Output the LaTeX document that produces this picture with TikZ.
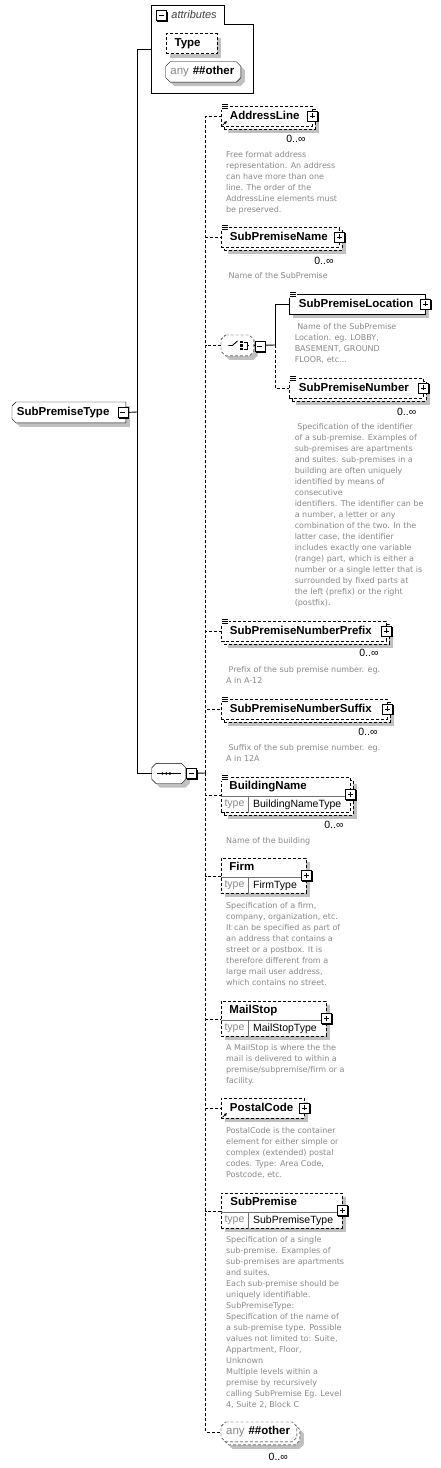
\documentclass[tikz,border=0pt]{standalone}
\usepackage{fontspec}
\setmainfont{Liberation Sans}
\newfontfamily\docfamily{DejaVu Sans}
\usepackage{tikz}
\usetikzlibrary{calc,shadows,arrows.meta,backgrounds}

\definecolor{shadowgray}{HTML}{C0C0C0}
\definecolor{docgray}{HTML}{888888}

% outline of a box with cut corners, from the anchors of node #1
\newcommand\chamfer[2]{($(#1.north west)+(#2,0)$) -- ($(#1.north east)+(-#2,0)$) -- ($(#1.north east)+(0,#2)$)
  -- ($(#1.south east)+(0,-#2)$) -- ($(#1.south east)+(-#2,0)$) -- ($(#1.south west)+(#2,0)$)
  -- ($(#1.south west)+(0,-#2)$) -- ($(#1.north west)+(0,#2)$) -- cycle}

\tikzset{
  elem/.style={draw, fill=white, anchor=north west, inner sep=0pt, minimum height=20pt,
    font=\fontsize{11.5}{13}\selectfont\bfseries, text height=8pt, text depth=2.5pt, align=left},
  chbox/.style={elem, draw=none, fill=none},
  backbox/.style={draw, fill=white, anchor=north west, inner sep=0pt, minimum height=20pt},
  opt/.style={dash pattern=on 3pt off 2pt},
  boxshadow/.style={general shadow={fill=shadowgray, shadow xshift=4pt, shadow yshift=-4pt}},
  shadowfill/.style={fill=shadowgray, transform canvas={shift={(4pt,-4pt)}}},
  elemlabel/.style={anchor=west, inner sep=0pt, font=\fontsize{11.5}{13}\selectfont\bfseries,
    text height=8pt, text depth=2.5pt},
  typename/.style={anchor=west, inner sep=0pt, font=\fontsize{10.5}{12}\selectfont},
  typelbl/.style={inner sep=0pt, font=\fontsize{10.5}{12}\selectfont, text=docgray},
  typeline/.style={draw=black!55, line width=0.9pt},
  occ/.style={anchor=east, inner sep=0pt, font=\fontsize{10.5}{12}\selectfont},
  doc/.style={anchor=north west, inner sep=0pt, align=left, text=docgray,
    font=\docfamily\fontsize{8}{11}\selectfont},
  plusicon/.pic={
    \fill (-4.5,-4.5) rectangle (6,6);
    \filldraw[fill=white, line width=0.8pt] (-5.5,-5.5) rectangle (4.5,4.5);
    \draw[line width=0.8pt] (-3,-0.5) -- (2,-0.5) (-0.5,-3) -- (-0.5,2);
  },
  minusicon/.pic={
    \fill (-4.5,-4.5) rectangle (6,6);
    \filldraw[fill=white, line width=0.8pt] (-5.5,-5.5) rectangle (4.5,4.5);
    \draw[line width=0.8pt] (-3,-0.5) -- (2,-0.5);
  },
  docmark/.pic={
    \fill[white] (-0.6,-2.5) rectangle (7.5,3.5);
    \foreach \d in {-1.5,0.5,2.5}
      \draw[line width=0.7pt] (1,\d) -- (7,\d);
  },
  refarrow/.pic={
    \draw[line width=0.8pt, -{Latex[length=3pt,width=3pt]}] (1.5,-1.5) -- (6,-6);
  },
}

\begin{document}
\begin{tikzpicture}[x=1pt, y=-1pt, line width=0.9pt]
\useasboundingbox (0,0) rectangle (440,1468);

% root
\node[chbox, minimum width=113, text width=104] (root) at (12,402) {SubPremiseType};

% attributes
\node[anchor=north west, inner sep=0pt, minimum width=100.6, minimum height=87.3] (attrs) at (151.7,5) {};
\draw (attrs.north west) -- ++(72.6,0) -- ++(0,19.3) -| (attrs.south east) -- (attrs.south west) -- cycle;
\node[anchor=west, inner sep=0pt, font=\fontsize{11}{13}\selectfont\itshape, text=black!75] (attrlbl) at (171,15) {attributes};
\node[elem, opt, boxshadow, minimum width=51, text width=34] (type) at (165.7,33.3) {Type};
\node[chbox, minimum width=74.3, minimum height=19.5, text width=65.7] (attrany) at (165.7,61.7)
  {\textcolor{docgray}{\mdseries any} \#\#other};

% sequence
\node[chbox, minimum width=33.3, minimum height=19.5] (seq) at (151.7,763.3) {};
\draw ($(seq.center)+(-11.5,0)$) -- ($(seq.center)+(11.8,0)$);
\foreach \d in {-6.3,-2.6,1.1}
  \fill ($(seq.center)+(\d,0)$) circle (1.4);

% AddressLine
\node[backbox, opt, boxshadow, minimum width=91] (addrbk) at (224,109) {};
\node[elem, opt, minimum width=91, text width=74] (addr) at (221,106) {AddressLine};
\node[occ] (addrocc) at (306,139) {0..∞};
\node[doc] (addrdoc) at (225.7,151) {Free format address\\representation. An address\\can have more than one\\line. The order of the\\AddressLine elements must\\be preserved.};

% SubPremiseName
\node[backbox, opt, boxshadow, minimum width=118] (spnamebk) at (224,230) {};
\node[elem, opt, minimum width=118, text width=101] (spname) at (221,227) {SubPremiseName};
\node[occ] (spnameocc) at (334,261) {0..∞};
\node[doc] (spnamedoc) at (225.7,272) {\hspace*{2.5pt}Name of the SubPremise};

% choice
\node[chbox, minimum width=32] (choice) at (221,335) {};
\draw ($(choice.center)+(-9,0)$) -- ($(choice.center)+(-5,0)$) -- ($(choice.center)+(0,-4.5)$);
\foreach \d in {-3.5,0,3.5}
  \fill ($(choice.center)+(3,\d-1)$) rectangle ++(2.2,2.2);
\draw ($(choice.center)+(7,-3.5)$) -- ($(choice.center)+(9.5,-3.5)$) -- ($(choice.center)+(9.5,3.5)$) -- ($(choice.center)+(7,3.5)$)
  ($(choice.center)+(9.5,0)$) -- ($(choice.center)+(12,0)$);

% SubPremiseLocation
\node[elem, boxshadow, minimum width=136, text width=117] (sploc) at (289,294) {SubPremiseLocation};
\node[doc] (splocdoc) at (294.3,322.7) {\hspace*{2.5pt}Name of the SubPremise\\Location. eg. LOBBY,\\BASEMENT, GROUND\\FLOOR, etc...};

% SubPremiseNumber
\node[backbox, opt, boxshadow, minimum width=134] (spnumbk) at (292,381) {};
\node[elem, opt, minimum width=134, text width=115] (spnum) at (289,378) {SubPremiseNumber};
\node[occ] (spnumocc) at (416.7,411.7) {0..∞};
\node[doc] (spnumdoc) at (294.3,422.7) {\hspace*{2.5pt}Specification of the identifier\\of a sub-premise. Examples of\\sub-premises are apartments\\and suites. sub-premises in a\\building are often uniquely\\identified by means of\\consecutive\\identifiers. The identifier can be\\a number, a letter or any\\combination of the two. In the\\latter case, the identifier\\includes exactly one variable\\(range) part, which is either a\\number or a single letter that is\\surrounded by fixed parts at\\the left (prefix) or the right\\(postfix).};

% SubPremiseNumberPrefix
\node[backbox, opt, boxshadow, minimum width=165] (prefixbk) at (224,624) {};
\node[elem, opt, minimum width=165, text width=148] (prefix) at (221,621) {SubPremiseNumberPrefix};
\node[occ] (prefixocc) at (379,653) {0..∞};
\node[doc] (prefixdoc) at (225.7,666) {\hspace*{2.5pt}Prefix of the sub premise number. eg.\\A in A-12};

% SubPremiseNumberSuffix
\node[backbox, opt, boxshadow, minimum width=166] (suffixbk) at (224,702) {};
\node[elem, opt, minimum width=166, text width=149] (suffix) at (221,699) {SubPremiseNumberSuffix};
\node[occ] (suffixocc) at (378,732) {0..∞};
\node[doc] (suffixdoc) at (225.7,744) {\hspace*{2.5pt}Suffix of the sub premise number. eg.\\A in 12A};

% BuildingName
\node[backbox, opt, boxshadow, minimum width=129, minimum height=35] (bnamebk) at (224,780) {};
\node[elem, opt, minimum width=129, minimum height=35] (bname) at (221,777) {};
\node[elemlabel] (bnamelbl) at (229,786.5) {BuildingName};
\node[typename] (bnametn) at (252.7,804.5) {BuildingNameType};
\node[occ] (bnameocc) at (344,825) {0..∞};
\node[doc] (bnamedoc) at (225.7,836.7) {Name of the building};

% Firm
\node[elem, opt, boxshadow, minimum width=85, minimum height=35] (firm) at (221,858) {};
\node[elemlabel] (firmlbl) at (229,868) {Firm};
\node[typename] (firmtn) at (252.7,885.5) {FirmType};
\node[doc] (firmdoc) at (225.7,902) {Specification of a firm,\\company, organization, etc.\\It can be specified as part of\\an address that contains a\\street or a postbox. It is\\therefore different from a\\large mail user address,\\which contains no street.};

% MailStop
\node[elem, opt, boxshadow, minimum width=105, minimum height=35] (mailstop) at (221,1001) {};
\node[elemlabel] (mailstoplbl) at (229,1010.5) {MailStop};
\node[typename] (mailstoptn) at (252.7,1028.5) {MailStopType};
\node[doc] (mailstopdoc) at (225.7,1044) {A MailStop is where the the\\mail is delivered to within a\\premise/subpremise/firm or a\\facility.};

% PostalCode
\node[elem, opt, boxshadow, minimum width=83, text width=66] (postal) at (221,1098) {PostalCode};
\node[doc] (postaldoc) at (225.7,1127) {PostalCode is the container\\element for either simple or\\complex (extended) postal\\codes. Type: Area Code,\\Postcode, etc.};

% SubPremise
\node[elem, opt, boxshadow, minimum width=121, minimum height=35] (subp) at (221,1193) {};
\node[elemlabel] (subplbl) at (230,1202.5) {SubPremise};
\node[typename] (subptn) at (252.7,1220.5) {SubPremiseType};
\node[doc] (subpdoc) at (225.7,1236) {Specification of a single\\sub-premise. Examples of\\sub-premises are apartments\\and suites.\\Each sub-premise should be\\uniquely identifiable.\\SubPremiseType:\\Specification of the name of\\a sub-premise type. Possible\\values not limited to: Suite,\\Appartment, Floor,\\Unknown\\Multiple levels within a\\premise by recursively\\calling SubPremise Eg. Level\\4, Suite 2, Block C};

% any ##other
\node[chbox, minimum width=75, minimum height=19] (anyobk) at (224,1425) {};
\node[chbox, minimum width=75, minimum height=19, text width=65.6] (anyo) at (221,1422)
  {\textcolor{docgray}{\mdseries any} \#\#other};
\node[occ] (anyoocc) at (288.3,1456.7) {0..∞};

% cut-corner outlines, under the texts
\begin{scope}[on background layer]
  \fill[shadowfill] ($(root.north west)+(4,0)$) -- (root.north east) -- (root.south east)
    -- ($(root.south west)+(4,0)$) -- ($(root.south west)+(0,-4)$) -- ($(root.north west)+(0,4)$) -- cycle;
  \draw[fill=white] ($(root.north west)+(4,0)$) -- (root.north east) -- (root.south east)
    -- ($(root.south west)+(4,0)$) -- ($(root.south west)+(0,-4)$) -- ($(root.north west)+(0,4)$) -- cycle;
  \foreach \n in {attrany,seq,choice,anyobk}
    \fill[shadowfill] \chamfer{\n}{4.5};
  \draw[fill=white] \chamfer{attrany}{4.5};
  \draw[fill=white] \chamfer{seq}{4.5};
  \draw[opt, fill=white] \chamfer{choice}{4.5};
  \draw[opt, fill=white] \chamfer{anyobk}{4.5};
  \draw[opt, fill=white] \chamfer{anyo}{4.5};
\end{scope}

% type rows
\foreach \n in {bname,firm,mailstop,subp} {
  \draw[typeline] ($(\n.north west)+(0,19.5)$) -- ($(\n.north east)+(0,19.5)$);
  \draw[typeline] ($(\n.north west)+(27,19.5)$) -- ($(\n.south west)+(27,0)$);
  \node[typelbl] (\n type) at ($(\n.north west)+(13.5,27)$) {type};
}

% connectors
\coordinate (trunk) at (137,412);
\coordinate (strunk) at (205.7,773);
\coordinate (ctrunk) at (275,345);
\draw (root.east) -- (trunk);
\draw (trunk) |- (attrs.west);
\draw (trunk) |- (seq.west);
\draw (seq.east) -- (strunk);
\foreach \n in {addr,spname,choice,prefix,suffix,bname,firm,mailstop,postal,subp,anyo}
  \draw[opt] (strunk) |- (\n.west);
\draw (choice.east) -- (ctrunk);
\draw (ctrunk) |- (sploc.west);
\draw[opt] (ctrunk) |- (spnum.west);

% icons
\pic at ($(root.east)+(-2.5,0.5)$) {minusicon};
\pic at (161.7,16) {minusicon};
\pic at ($(seq.east)+(6,0.5)$) {minusicon};
\pic at ($(choice.east)+(6.5,1.5)$) {minusicon};
\foreach \n in {addr,spname,sploc,spnum,prefix,suffix,bname,firm,mailstop,postal,subp}
  \pic at (\n.east) {plusicon};
\foreach \n in {addr,spname,sploc,spnum,prefix,suffix,bname}
  \pic at (\n.north west) {docmark};
\foreach \n in {addr,postal}
  \pic at (\n.south west) {refarrow};

\end{tikzpicture}
\end{document}
